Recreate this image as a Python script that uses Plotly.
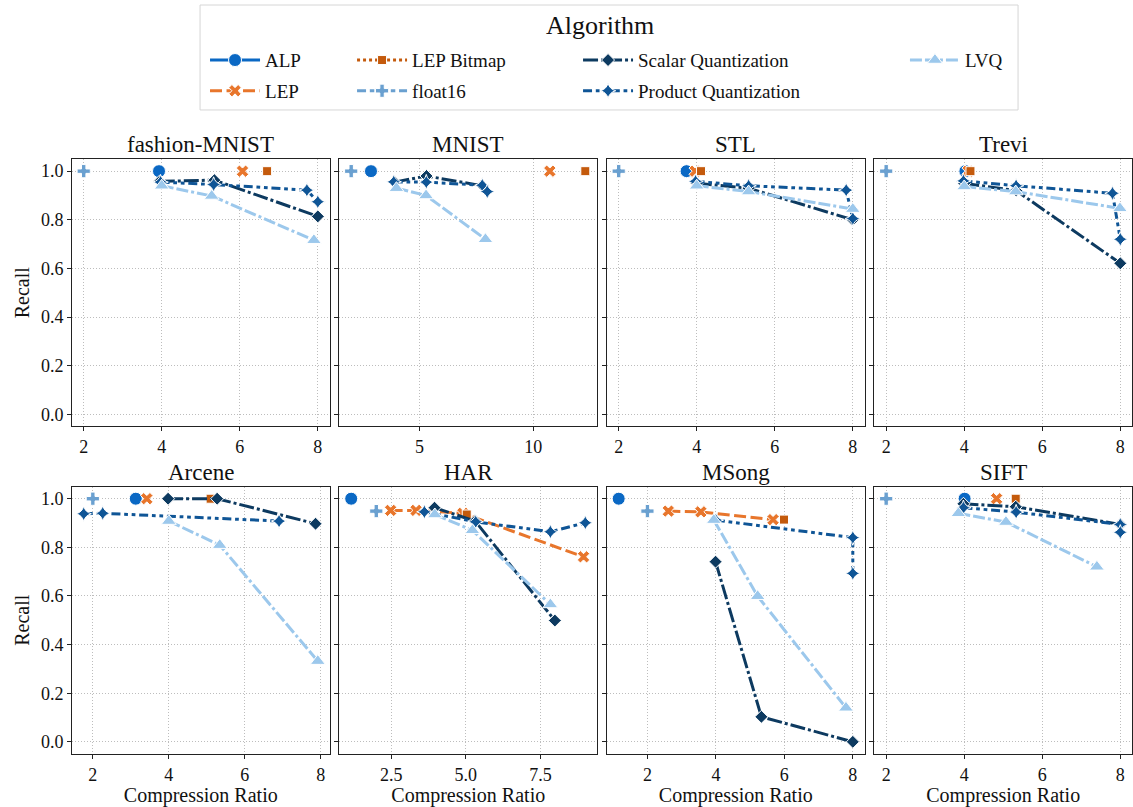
import plotly.graph_objects as go
from plotly.subplots import make_subplots

FONT = "Liberation Serif"

DATASETS = ["fashion-MNIST", "MNIST", "STL", "Trevi", "Arcene", "HAR", "MSong", "SIFT"]
ALGORITHMS = ["ALP", "LEP", "LEP Bitmap", "float16", "Scalar Quantization",
              "Product Quantization", "LVQ"]

# per algorithm: one list per dataset (same order as DATASETS)
ALP_X = [[3.93], [2.87], [3.74], [4.03], [3.13], [1.16], [1.16], [4.01]]
ALP_Y = [[1.0], [1.0], [1.0], [1.0], [1.0], [1.0], [1.0], [1.0]]

LEP_X = [[6.07], [10.73], [3.96], [4.10], [3.42], [2.48, 3.33, 4.90, 8.94],
         [2.61, 3.56, 5.67], [4.83]]
LEP_Y = [[1.0], [1.0], [1.0], [1.0], [1.0], [0.952, 0.952, 0.940, 0.761],
         [0.949, 0.946, 0.914], [1.0]]

LEPB_X = [[6.70], [12.29], [4.11], [4.16], [5.10], [5.03], [5.99], [5.32]]
LEPB_Y = [[1.0], [1.0], [1.0], [1.0], [1.0], [0.935], [0.914], [1.0]]

F16_X = [[2.0], [2.0], [2.0], [2.0], [2.0], [2.0], [2.0], [2.0]]
F16_Y = [[1.0], [1.0], [1.0], [1.0], [1.0], [0.949], [0.949], [1.0]]

SQ_X = [[3.95, 5.35, 8.0], [3.90, 5.31, 7.76], [4.0, 5.33, 8.0], [4.0, 5.33, 8.0],
        [3.98, 5.27, 7.86], [3.95, 5.31, 7.98], [3.99, 5.33, 8.0], [3.98, 5.32, 8.0]]
SQ_Y = [[0.958, 0.963, 0.814], [0.955, 0.980, 0.940], [0.950, 0.930, 0.800],
        [0.950, 0.920, 0.621], [1.0, 1.0, 0.897], [0.963, 0.908, 0.499],
        [0.741, 0.103, 0.0], [0.979, 0.967, 0.894]]

PQ_X = [[3.97, 5.33, 7.72, 8.0], [3.87, 5.30, 7.76, 7.98], [3.97, 5.33, 7.83, 8.0],
        [3.98, 5.33, 7.80, 8.0], [1.76, 2.26, 6.90], [3.61, 5.33, 7.83, 9.0],
        [4.0, 8.0, 8.0], [3.98, 5.33, 8.0, 8.0]]
PQ_Y = [[0.955, 0.945, 0.922, 0.874], [0.956, 0.955, 0.942, 0.916],
        [0.958, 0.940, 0.922, 0.805], [0.960, 0.940, 0.909, 0.720],
        [0.938, 0.940, 0.908], [0.946, 0.905, 0.864, 0.901],
        [0.912, 0.840, 0.693], [0.963, 0.945, 0.894, 0.862]]

LVQ_X = [[4.0, 5.28, 7.9], [3.99, 5.29, 7.9], [4.0, 5.33, 8.0], [4.0, 5.32, 7.99],
         [4.0, 5.34, 7.92], [3.96, 5.22, 7.83], [3.94, 5.22, 7.8], [3.85, 5.07, 7.4]]
LVQ_Y = [[0.940, 0.898, 0.716], [0.930, 0.900, 0.720], [0.940, 0.916, 0.844],
         [0.937, 0.916, 0.847], [0.908, 0.809, 0.332], [0.935, 0.870, 0.565],
         [0.912, 0.599, 0.140], [0.940, 0.904, 0.720]]

XS = [ALP_X, LEP_X, LEPB_X, F16_X, SQ_X, PQ_X, LVQ_X]
YS = [ALP_Y, LEP_Y, LEPB_Y, F16_Y, SQ_Y, PQ_Y, LVQ_Y]

X_DTICK = [2, 5, 2, 2, 2, 2.5, 2, 2]

COLORS = ["#0A68C4", "#E8762C", "#C45A0C", "#6AA0D0", "#0D3A60", "#0F5596", "#9CC8EC"]
SYMBOLS = ["circle", "x", "square", "cross", "diamond", "star-diamond", "triangle-up"]
MSIZES = [13, 11, 9, 11, 10, 11, 13]
LW = 3
DASHES = ["solid",
          "12px,4.5px",
          "3px,3px",
          "9px,3.75px,4.5px,3.75px",
          "15px,3px,3px,3px",
          "9px,3.75px,3.75px,3.75px,3.75px,3.75px",
          "12px,3px,12px,3px,3px,3px"]
LEGEND_OF = ["legend", "legend", "legend2", "legend2", "legend3", "legend3", "legend4"]

fig = make_subplots(rows=2, cols=4, shared_yaxes=True,
                    horizontal_spacing=0.0094, vertical_spacing=0.101,
                    subplot_titles=DATASETS)
for ann in fig.layout.annotations:
    ann.font = dict(family=FONT, size=23, color="#111")

for d, name in enumerate(DATASETS):
    r, c = d // 4 + 1, d % 4 + 1
    for a, alg in enumerate(ALGORITHMS):
        fig.add_trace(go.Scatter(
            x=XS[a][d], y=YS[a][d], name=alg, mode="lines+markers",
            legendgroup=alg, legend=LEGEND_OF[a], showlegend=(d == 0),
            line=dict(color=COLORS[a], width=LW, dash=DASHES[a]),
            marker=dict(symbol=SYMBOLS[a], size=MSIZES[a], color=COLORS[a],
                        line=dict(color="white", width=1)),
        ), row=r, col=c)
    allx = [v for a in range(len(ALGORITHMS)) for v in XS[a][d]]
    lo, hi = min(allx), max(allx)
    pad = (hi - lo) * 0.05
    fig.update_xaxes(range=[lo - pad, hi + pad], dtick=X_DTICK[d],
                     tick0=0, tickformat=(".1f" if d == 5 else "d"), row=r, col=c)

axis_style = dict(showline=True, mirror=True, linecolor="#222", linewidth=1,
                  ticks="outside", ticklen=4, tickcolor="#222", showgrid=True,
                  gridcolor="#bdbdbd", griddash="1px,2px", gridwidth=1, zeroline=False,
                  tickfont=dict(family=FONT, size=18, color="#111"))
fig.update_xaxes(**axis_style)
fig.update_yaxes(**axis_style)
fig.update_yaxes(range=[-0.05, 1.05], dtick=0.2, tick0=0, tickformat=".1f")
for c in range(1, 5):
    fig.update_xaxes(title=dict(text="Compression Ratio", standoff=4,
                                font=dict(family=FONT, size=20, color="#111")), row=2, col=c)
for r in range(1, 3):
    fig.update_yaxes(title=dict(text="Recall", standoff=5,
                                font=dict(family=FONT, size=20, color="#111")), row=r, col=1)

legend_common = dict(orientation="v", bgcolor="rgba(0,0,0,0)", borderwidth=0,
                     font=dict(family=FONT, size=19, color="#111"), itemwidth=50,
                     tracegroupgap=3, xanchor="left", yanchor="top", y=1.198,
                     itemclick=False, itemdoubleclick=False)
fig.update_layout(
    legend=dict(x=0.1255, **legend_common),
    legend2=dict(x=0.2642, **legend_common),
    legend3=dict(x=0.4774, **legend_common),
    legend4=dict(x=0.7858, **legend_common),
)

fig.add_shape(type="rect", xref="paper", yref="paper",
              x0=0.1208, x1=0.8925, y0=1.0824, y1=1.2588,
              line=dict(color="#d6d6d6", width=1), fillcolor="rgba(0,0,0,0)")
fig.add_annotation(text="Algorithm", xref="paper", yref="paper", x=0.498, y=1.225,
                   showarrow=False, xanchor="center", yanchor="middle",
                   font=dict(family=FONT, size=26, color="#111"))

fig.update_layout(width=1133, height=807,
                  margin=dict(l=72, r=1, t=159, b=53),
                  paper_bgcolor="white", plot_bgcolor="white",
                  font=dict(family=FONT, color="#111"))

fig.write_html("out.html")
